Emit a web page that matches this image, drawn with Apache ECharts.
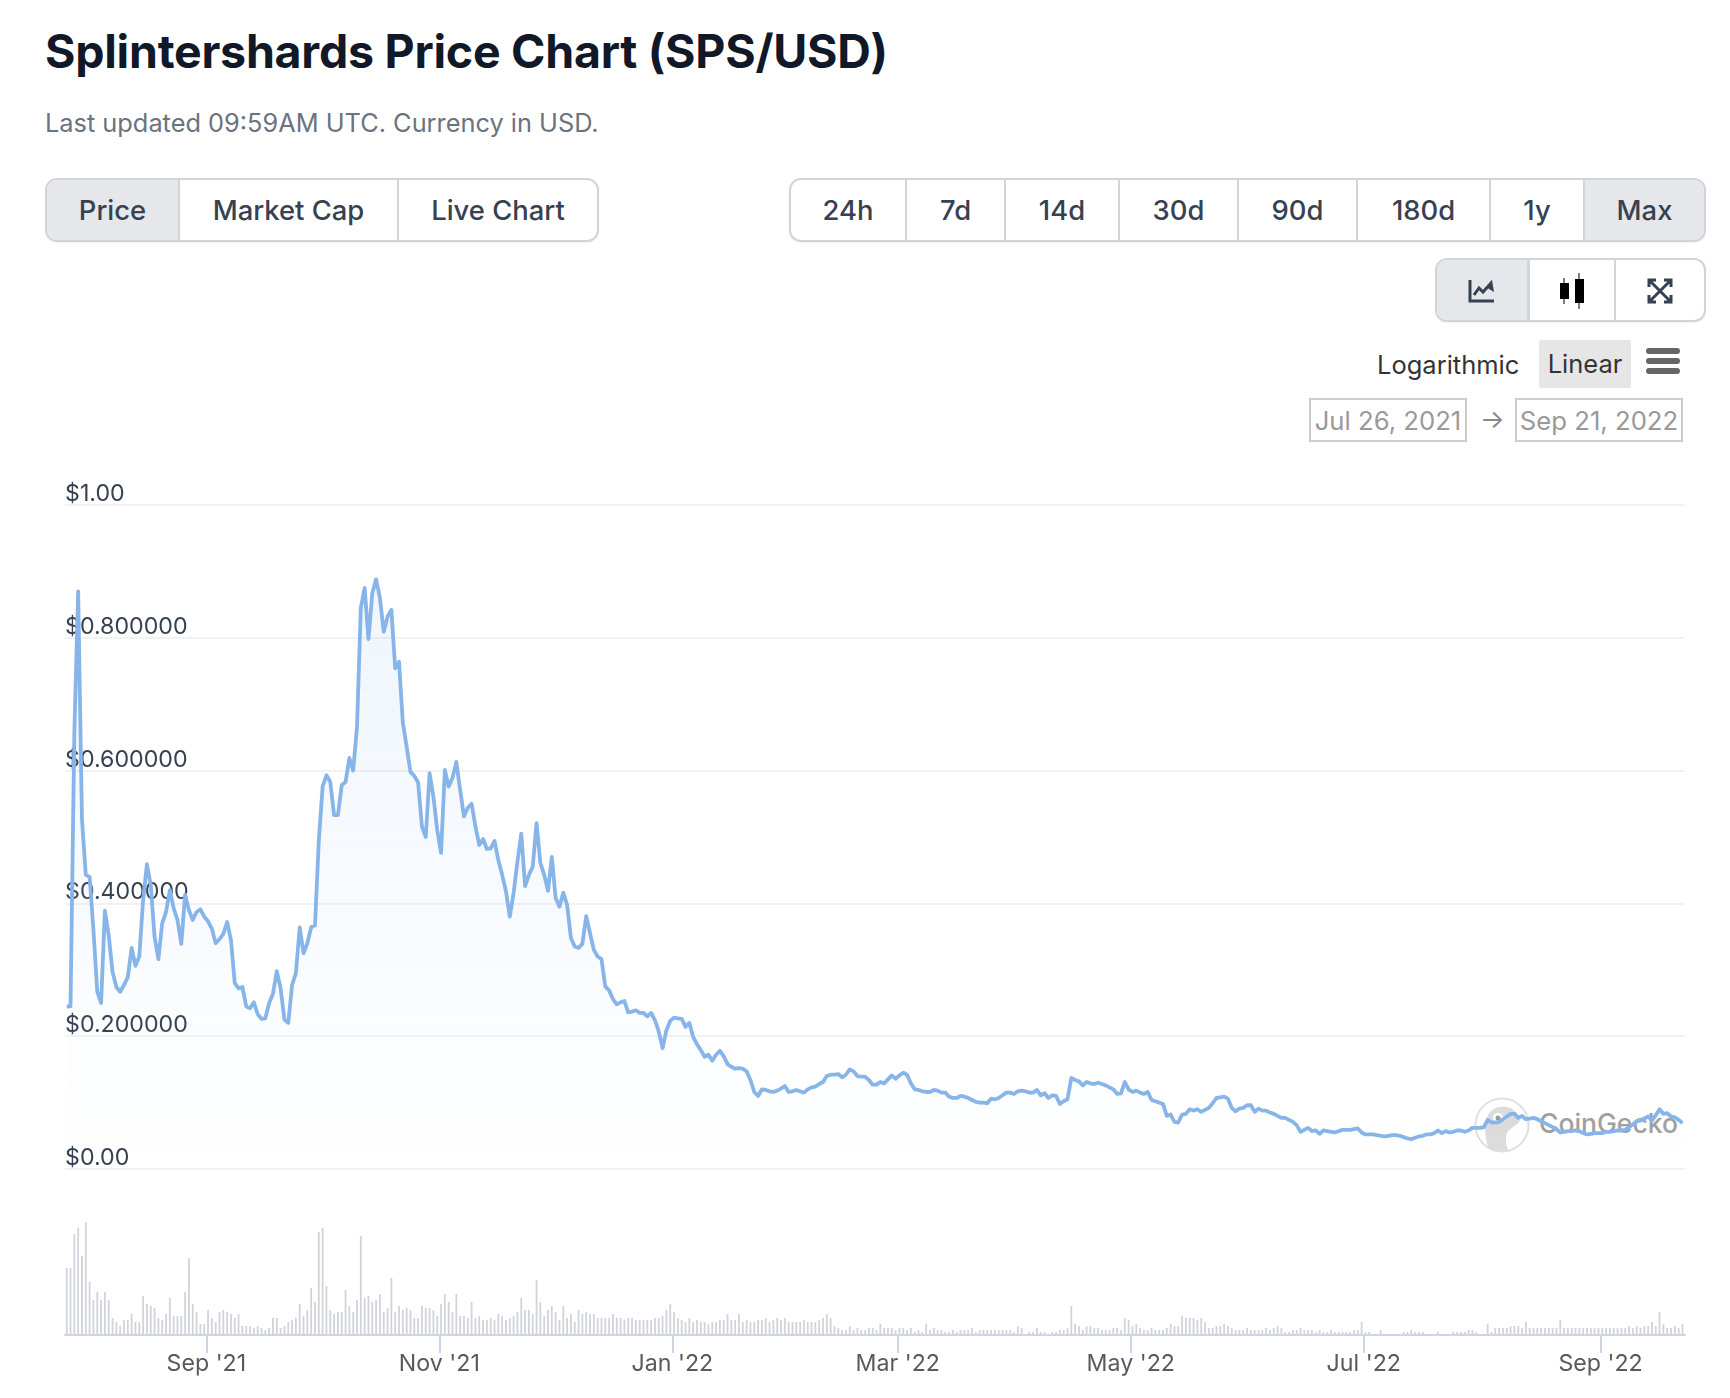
<!DOCTYPE html>
<html><head><meta charset="utf-8"><title>Splintershards Price Chart</title>
<script src="https://cdn.jsdelivr.net/npm/echarts@6/dist/echarts.min.js"></script>
<style>
html,body{margin:0;padding:0;background:#fff;width:1730px;height:1398px;overflow:hidden}
body{font-family:Inter,"Liberation Sans",sans-serif;position:relative}
.abs{position:absolute}
#chart{position:absolute;left:0;top:0;width:1730px;height:1398px;z-index:2}
.title{left:45px;top:20px;font-size:46.5px;font-weight:700;color:#111827;line-height:62px;white-space:nowrap;letter-spacing:-.25px}
.sub{left:45px;top:106px;font-size:25.35px;color:#6b7280;line-height:34px;white-space:nowrap}
.group{display:flex;box-sizing:border-box;border:2px solid #d1d5db;border-radius:12px;overflow:hidden;box-shadow:0 1px 2px rgba(0,0,0,.05);background:#fff}
.group div{box-sizing:border-box;display:flex;align-items:center;justify-content:center;color:#374151;font-size:27.4px;font-weight:500;border-right:2px solid #d1d5db}
.group div:last-child{border-right:none}
.group div.on{background:#e5e7eb}
.group svg{position:relative;top:1px}
.date{box-sizing:border-box;border:2px solid #ccc;color:#999;font-size:25.7px;display:flex;align-items:center;justify-content:center;white-space:nowrap}
</style></head><body>
<div class="abs title">Splintershards Price Chart (SPS/USD)</div>
<div class="abs sub">Last updated 09:59AM UTC. Currency in USD.</div>
<div class="abs group" style="left:45px;top:178px;width:554px;height:64px">
  <div class="on" style="width:133px">Price</div><div style="width:219px">Market Cap</div><div style="flex:1">Live Chart</div>
</div>
<div class="abs group" style="left:789px;top:178px;width:917px;height:64px">
  <div style="width:116px">24h</div><div style="width:99px">7d</div><div style="width:114px">14d</div><div style="width:119px">30d</div><div style="width:119px">90d</div><div style="width:133px">180d</div><div style="width:94px">1y</div><div class="on" style="flex:1">Max</div>
</div>
<div class="abs group" style="left:1435px;top:258px;width:271px;height:64px">
  <div class="on" style="width:93px;border-right-width:3px"><svg width="28" height="26" viewBox="0 0 28 26"><path d="M2 2V23H26" fill="none" stroke="#374151" stroke-width="3"/><path d="M6 17L11 10L15 14L23 5L24 11L19 8" fill="none" stroke="#374151" stroke-width="3"/></svg></div>
  <div style="width:86px"><svg width="26" height="36" viewBox="0 0 26 36"><path d="M5 5V31M20 0V36" stroke="#000" stroke-width="1"/><rect x="1" y="10" width="9" height="16" fill="#000"/><rect x="16" y="6" width="9" height="24" fill="#000"/></svg></div>
  <div style="flex:1"><svg width="28" height="28" viewBox="0 0 28 28"><path d="M3 10V3H10M18 3H25V10M25 18V25H18M10 25H3V18M3 3L25 25M25 3L3 25" fill="none" stroke="#374151" stroke-width="3"/></svg></div>
</div>
<div class="abs" style="left:1377px;top:347px;font-size:25.5px;line-height:36px;color:#333">Logarithmic</div>
<div class="abs" style="left:1539px;top:340px;width:92px;height:48px;background:#e6e6e6;border-radius:2px;font-size:25.5px;line-height:48px;text-align:center;color:#333">Linear</div>
<svg class="abs" style="left:1646px;top:346px" width="34" height="30" viewBox="0 0 34 30"><path d="M3 5H31M3 15H31M3 25H31" stroke="#666" stroke-width="6" stroke-linecap="round"/></svg>
<div class="abs date" style="left:1309px;top:398px;width:158px;height:44px">Jul 26, 2021</div>
<div class="abs" style="left:1480px;top:400px;font-size:26px;line-height:38px;color:#888">→</div>
<div class="abs date" style="left:1515px;top:398px;width:168px;height:44px">Sep 21, 2022</div>
<svg class="abs" style="left:1474px;top:1097px;z-index:1" width="56" height="56" viewBox="0 0 56 56"><circle cx="28" cy="28" r="26.5" fill="#fff" stroke="#e0e0e0" stroke-width="2"/><path d="M14 50C10 36 9 18 20 12C30 6 44 12 46 22C46 28 36 30 33 36C31 42 32 48 34 53C26 55 18 54 14 50Z" fill="#dcdcdc"/><circle cx="24" cy="21" r="5" fill="#fff"/><circle cx="24" cy="21" r="2.5" fill="#9a9a9a"/></svg>
<div class="abs" style="left:1539px;top:1103px;z-index:1;font-size:26.5px;font-weight:500;line-height:40px;color:#a0a0a0;white-space:nowrap">CoinGecko</div>
<div id="chart"></div>
<script>
var priceValues=[
.245,.245,.657,.87,.526,.443,.44,.36,.267,.25,.389,.352,.297,.274,.267,.277,.289,.333,.306,.32,
.405,.459,.428,.35,.316,.37,.387,.42,.393,.375,.339,.413,.39,.375,.387,.391,.38,.373,.362,.34,
.346,.354,.372,.345,.28,.272,.274,.245,.242,.251,.233,.226,.227,.25,.264,.298,.272,.225,.22,.277,
.295,.364,.325,.34,.364,.367,.495,.576,.593,.583,.533,.533,.578,.583,.619,.6,.666,.845,.875,.798,
.867,.888,.86,.809,.832,.842,.754,.764,.672,.636,.598,.592,.582,.516,.5,.596,.561,.511,.476,.601,
.576,.589,.613,.571,.531,.544,.55,.516,.488,.497,.482,.483,.494,.465,.443,.418,.38,.416,.463,.505,
.426,.443,.455,.521,.461,.443,.419,.47,.408,.395,.416,.398,.348,.335,.333,.339,.381,.355,.33,.32,
.316,.275,.269,.256,.248,.251,.253,.236,.237,.239,.235,.235,.23,.235,.224,.207,.182,.209,.223,.228,
.227,.226,.214,.22,.199,.188,.179,.169,.172,.163,.172,.178,.17,.158,.154,.151,.152,.151,.147,.134,
.116,.11,.12,.119,.117,.116,.118,.121,.125,.116,.117,.119,.117,.115,.12,.123,.124,.128,.131,.14,
.142,.142,.143,.138,.142,.15,.147,.14,.139,.139,.134,.127,.127,.131,.129,.135,.141,.136,.141,.145,
.142,.129,.12,.119,.117,.116,.116,.119,.118,.115,.115,.109,.107,.107,.11,.109,.107,.104,.101,.1,
.1,.099,.106,.105,.107,.111,.115,.115,.113,.117,.118,.117,.115,.115,.119,.111,.114,.107,.111,.11,
.098,.102,.105,.137,.134,.132,.126,.131,.129,.128,.13,.128,.126,.123,.12,.113,.114,.131,.12,.116,
.118,.115,.113,.116,.104,.102,.1,.098,.08,.082,.071,.07,.082,.083,.09,.088,.09,.086,.089,.092,
.099,.107,.108,.109,.106,.092,.087,.091,.092,.096,.096,.086,.091,.088,.088,.085,.083,.08,.077,.077,
.074,.071,.066,.056,.059,.062,.057,.058,.053,.058,.057,.056,.055,.057,.059,.059,.059,.06,.061,.055,
.052,.052,.052,.051,.05,.049,.05,.051,.051,.05,.048,.046,.045,.047,.049,.05,.052,.052,.054,.058,
.054,.057,.055,.056,.058,.058,.056,.058,.062,.062,.062,.063,.074,.07,.07,.071,.075,.079,.083,.083,
.077,.08,.075,.076,.077,.075,.072,.069,.066,.063,.06,.055,.056,.057,.057,.058,.057,.054,.052,.053,
.054,.054,.054,.056,.056,.057,.058,.058,.059,.063,.067,.072,.073,.076,.079,.073,.081,.09,.083,.084,
.079,.078,.074,.069];
var volumeValues=[
67,67,101,107,79,113,53,35,43,35,43,35,17,13,9,15,15,21,13,13,39,31,29,27,17,15,21,37,19,19,
19,43,77,31,23,11,11,25,17,13,23,25,23,21,17,21,9,9,9,7,9,7,5,7,17,17,7,9,13,15,
17,31,19,25,47,33,103,107,49,25,21,23,23,45,29,23,35,99,37,39,33,35,41,23,27,57,23,29,25,27,
25,17,17,29,27,27,25,19,31,41,33,23,41,19,19,17,33,17,19,15,15,17,15,21,19,15,17,19,23,37,
25,25,21,55,33,19,25,29,23,15,29,17,21,13,25,21,23,21,21,17,17,17,17,21,17,17,15,17,17,15,
15,15,15,15,17,17,19,25,31,23,17,15,13,17,13,15,13,13,11,13,13,15,15,21,15,15,21,13,15,13,
13,15,15,17,13,15,17,15,17,13,13,13,13,15,13,13,13,15,17,21,17,9,7,5,5,9,5,7,5,5,
7,7,5,11,7,7,7,5,7,7,5,7,3,5,3,11,5,7,5,5,3,3,5,3,5,5,5,7,3,5,5,5,5,5,5,5,
5,5,3,9,7,0,3,3,7,3,3,0,3,3,5,5,7,29,11,9,5,9,9,7,7,5,5,5,7,7,5,17,15,9,11,7,
5,5,7,5,5,5,7,11,9,9,19,17,17,17,15,17,13,7,7,9,9,11,9,7,5,5,5,7,5,5,5,5,7,5,7,9,
7,3,3,5,5,7,5,5,5,3,5,3,3,5,3,3,3,3,3,5,5,13,3,3,0,0,5,0,0,0,0,0,3,3,5,3,3,3,
0,0,0,3,0,0,0,3,3,3,3,5,5,3,0,0,11,3,7,7,7,7,9,9,9,7,13,7,7,7,7,7,7,7,7,15,
7,7,7,7,7,7,7,7,7,7,7,7,7,7,7,7,7,9,7,9,7,9,9,13,9,23,11,7,7,9,7,11];
var tickDates=["2021-09-01","2021-11-01","2022-01-01","2022-03-01","2022-05-01","2022-07-01","2022-09-01"];
var tickLabels=["Sep '21","Nov '21","Jan '22","Mar '22","May '22","Jul '22","Sep '22"];
var priceTicks=[0,.2,.4,.6,.8,1];
var priceTickLabels=["$0.00","$0.200000","$0.400000","$0.600000","$0.800000","$1.00"];

var DAY=864e5, start=Date.UTC(2021,6,26), sampleOffset=.445*DAY;
function stamp(i){return start+sampleOffset+i*DAY;}
function rows(a){return a.map(function(v,i){return [stamp(i),v];});}
var tickTimes=tickDates.map(function(d){return Date.parse(d+"T00:00:00Z");});
var xMax=start+424.1*DAY;
var chart=echarts.init(document.getElementById('chart'),null,{renderer:'canvas'});
chart.setOption({
  animation:false,backgroundColor:'transparent',
  grid:[{left:65,top:505,width:1620,height:664},{left:65,top:1222,width:1620,height:113}],
  xAxis:[
    {type:'value',gridIndex:0,min:start,max:xMax,axisLine:{show:false},axisTick:{show:false},axisLabel:{show:false},splitLine:{show:false}},
    {type:'value',gridIndex:1,min:start,max:xMax,
     axisLine:{show:true,onZero:false,lineStyle:{color:'#ccd6eb',width:2}},
     axisTick:{show:true,customValues:tickTimes,length:18,lineStyle:{color:'#ccd6eb',width:2}},
     axisLabel:{show:true,customValues:tickTimes,margin:18,color:'#5a5a5a',fontFamily:'Inter',fontSize:23.2,hideOverlap:false,
       formatter:function(v){var k=tickTimes.indexOf(+v);return k<0?'':tickLabels[k];}},
     splitLine:{show:false}}
  ],
  yAxis:[
    {type:'value',gridIndex:0,min:0,max:1,interval:.2,axisLine:{show:false},axisTick:{show:false},
     splitLine:{show:true,lineStyle:{color:'#f2f2f3',width:2}},
     axisLabel:{inside:true,margin:0,color:'#364152',fontFamily:'Inter',fontSize:23.2,verticalAlign:'bottom',lineHeight:22,
       formatter:function(v){var k=priceTicks.findIndex(function(t){return Math.abs(t-v)<1e-6;});return k<0?'':priceTickLabels[k];}}},
    {type:'value',gridIndex:1,min:0,max:113,show:false,splitLine:{show:false}}
  ],
  series:[
    {type:'bar',xAxisIndex:1,yAxisIndex:1,data:rows(volumeValues),barWidth:1.8,itemStyle:{color:'#d0d4da'},silent:true},
    {type:'line',xAxisIndex:0,yAxisIndex:0,data:rows(priceValues),showSymbol:false,smooth:false,
     lineStyle:{color:'#87b5e9',width:3.8,join:'round'},
     areaStyle:{color:new echarts.graphic.LinearGradient(0,0,0,1,[{offset:0,color:'rgba(124,176,234,.17)'},{offset:1,color:'rgba(124,176,234,0.005)'}])}}
  ]
});
</script>
</body></html>
